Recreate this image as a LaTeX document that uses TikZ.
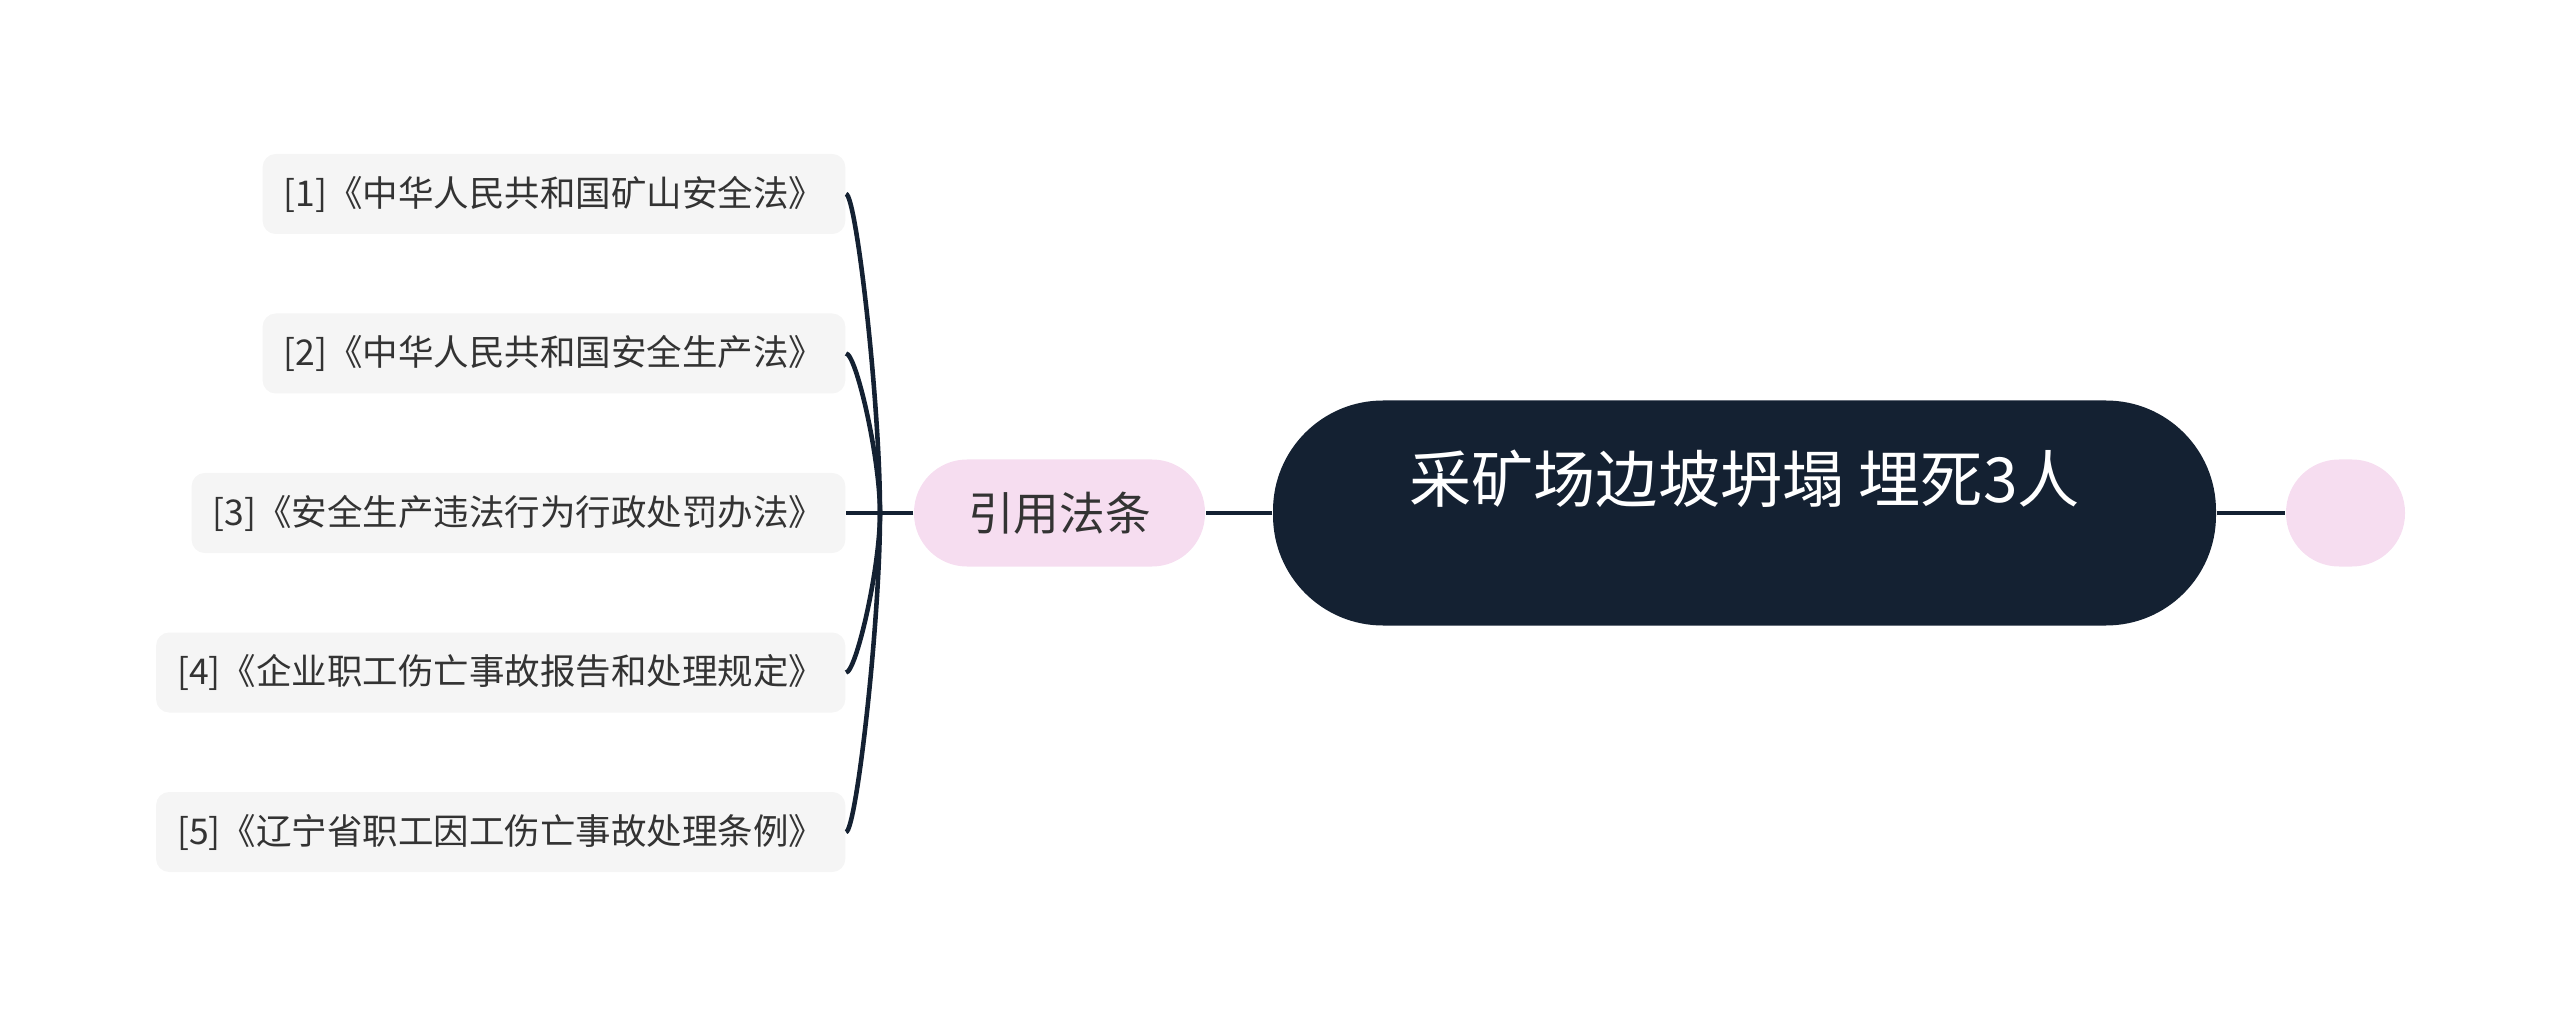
\documentclass[tikz,border=0pt]{standalone}
\usepackage{fontspec}
\newfontfamily\cjk{Noto Sans CJK SC}
\usetikzlibrary{calc}
\definecolor{navy}{RGB}{20,33,50}
\definecolor{rosa}{RGB}{246,221,240}
\definecolor{leafgray}{RGB}{245,245,245}
\definecolor{ink}{RGB}{51,51,51}

\begin{document}
\begin{tikzpicture}[font=\cjk,
  root/.style={fill=navy, text=white, rounded corners=1.1cm, minimum width=9.43cm,
    minimum height=2.25cm, align=center, font=\cjk\fontsize{17.7}{21}\selectfont},
  topic/.style={fill=rosa, text=ink, rounded corners=0.53cm, minimum height=1.07cm,
    font=\cjk\fontsize{13}{16}\selectfont},
  leaf/.style={fill=leafgray, text=ink, rounded corners=0.13cm, minimum height=0.8cm,
    inner xsep=0.21cm, anchor=east, font=\cjk\fontsize{10.1}{12}\selectfont},
  link/.style={draw=navy, line width=1.3pt}]
  \useasboundingbox (0,0) rectangle (25.6,10.27);
  \node[root] (root) at (17.445,5.14) {采矿场边坡坍塌 埋死3人\\ \mbox{}};
  \node[topic, minimum width=2.91cm] (law) at (10.595,5.14) {引用法条};
  \node[topic, minimum width=1.19cm] (blank) at (23.455,5.14) {};
  \coordinate (hub) at (8.80,5.14);
  \foreach \i/\y/\t in {1/8.33/{[1]《中华人民共和国矿山安全法》},
                        2/6.735/{[2]《中华人民共和国安全生产法》},
                        3/5.14/{[3]《安全生产违法行为行政处罚办法》},
                        4/3.545/{[4]《企业职工伤亡事故报告和处理规定》},
                        5/1.95/{[5]《辽宁省职工因工伤亡事故处理条例》}}
    \node[leaf] (leaf\i) at (8.46,\y) {\t};
  \draw[link] (root) -- (law);
  \draw[link] (root) -- (blank);
  \draw[link] (law) -- (leaf3);
  \foreach \i in {1,2,4,5}
    \draw[link] (hub) .. controls ($(hub)!.35!(hub |- leaf\i.east)$)
      and ($(leaf\i.east)+(.1,0)$) .. (leaf\i.east);
\end{tikzpicture}
\end{document}
